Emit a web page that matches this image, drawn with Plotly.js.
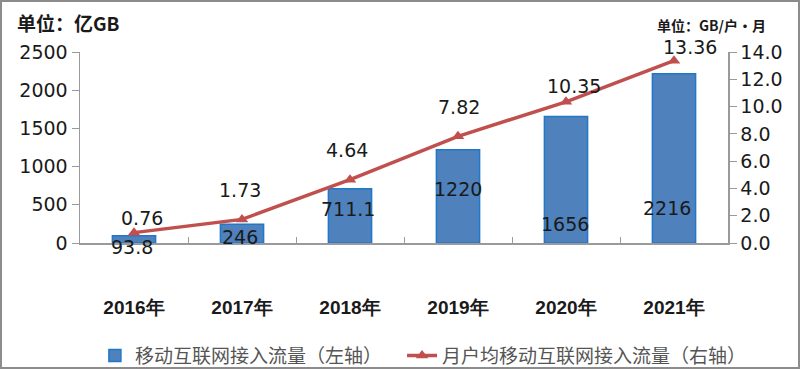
<!DOCTYPE html>
<html><head><meta charset="utf-8">
<script src="https://cdn.plot.ly/plotly-3.0.1.min.js"></script>
<style>
html,body{margin:0;padding:0;background:#fff;}
#wrap{position:relative;width:800px;height:369px;}
#chart{position:absolute;left:0;top:0;width:800px;height:369px;}
#frame{position:absolute;left:0;top:0;width:796px;height:365px;border:2px solid #8c8c8c;pointer-events:none;}
</style></head>
<body><div id="wrap"><div id="chart"></div><div id="frame"></div></div>
<script>
const years = ['2016年','2017年','2018年','2019年','2020年','2021年'];
const traffic = [93.8, 246, 711.1, 1220, 1656, 2216];
const trafficLabels = ['93.8','246','711.1','1220','1656','2216'];
const perUser = [0.76, 1.73, 4.64, 7.82, 10.35, 13.36];
const perUserLabels = ['0.76','1.73','4.64','7.82','10.35','13.36'];

// label offsets (pixels) to mimic the original label placement
const barLabelShift = [-4, 6, 34, 54, 19, 35];
const barLabelDx = [-2, -2, -2, 0, -1, -7];
const lineLabelShift = [15, 29, 30, 29, 16, 14];
const lineLabelDx = [8, -2, -3, 1, 8, 16];

const numFont = {family:'DejaVu Sans, sans-serif', size:19, color:'#1a1a1a'};
const legFont = {family:'Noto Sans CJK SC', size:19, color:'#555555'};

const annotations = [];
years.forEach((y,i)=>{
  annotations.push({x:y, y:0, xref:'x', yref:'y', text:trafficLabels[i], showarrow:false,
    yanchor:'middle', xanchor:'center', yshift:barLabelShift[i], xshift:barLabelDx[i], font:numFont});
  annotations.push({x:y, y:perUser[i], xref:'x', yref:'y2', text:perUserLabels[i], showarrow:false,
    yanchor:'middle', xanchor:'center', yshift:lineLabelShift[i], xshift:lineLabelDx[i], font:numFont});
});
annotations.push({xref:'paper', yref:'paper', x:-0.1, y:1.0, xanchor:'left', yanchor:'bottom', yshift:14,
  text:'<b>单位：亿GB</b>', showarrow:false, font:{family:'Noto Sans CJK SC', size:19, color:'#1a1a1a'}});
annotations.push({xref:'paper', yref:'paper', x:1.062, y:1.0, xanchor:'right', yanchor:'bottom', yshift:15,
  text:'<b>单位：GB/户·月</b>', showarrow:false, font:{family:'Noto Sans CJK SC', size:14, color:'#1a1a1a'}});

const data = [
  {type:'bar', x:years, y:traffic, name:'移动互联网接入流量（左轴）', width:0.4, legend:'legend',
   marker:{color:'#4F81BD', line:{color:'#1F78C8', width:1.5}}, yaxis:'y', cliponaxis:false},
  {type:'scatter', mode:'lines+markers', x:years, y:perUser, name:'月户均移动互联网接入流量（右轴）', yaxis:'y2',
   legend:'legend2',
   line:{color:'#C0504D', width:3.5}, marker:{symbol:'triangle-up', size:11, color:'#C0504D'}, cliponaxis:false}
];

const layout = {
  width:800, height:369,
  margin:{l:80, r:72, t:52, b:126, autoexpand:false},
  paper_bgcolor:'#fff', plot_bgcolor:'#fff',
  showlegend:true,
  legend:{orientation:'h', x:0.023, xanchor:'left', y:-0.59, yanchor:'middle', font:legFont, itemwidth:30},
  legend2:{orientation:'h', x:0.497, xanchor:'left', y:-0.59, yanchor:'middle', font:legFont, itemwidth:30},
  xaxis:{type:'category', showline:true, linecolor:'#9a9a9a', linewidth:1.5, ticks:'inside', tickson:'boundaries',
    ticklen:6, tickcolor:'#9a9a9a', ticklabelstandoff:47, showgrid:false, zeroline:false,
    tickfont:{family:'Liberation Sans, sans-serif', size:19, color:'#1a1a1a', weight:'bold'}},
  yaxis:{range:[0,2500], dtick:500, showline:true, linecolor:'#9a9a9a', linewidth:1.5, ticks:'outside',
    ticklen:7, tickcolor:'#9a9a9a', showgrid:false, zeroline:false, tickfont:numFont},
  yaxis2:{range:[0,14], dtick:2, tickformat:'.1f', overlaying:'y', side:'right', showline:true,
    linecolor:'#9a9a9a', linewidth:1.5, ticks:'outside', ticklen:7, tickcolor:'#9a9a9a', showgrid:false,
    zeroline:false, tickfont:numFont},
  annotations:annotations
};
Plotly.newPlot('chart', data, layout, {staticPlot:true, displayModeBar:false});
</script></body></html>
